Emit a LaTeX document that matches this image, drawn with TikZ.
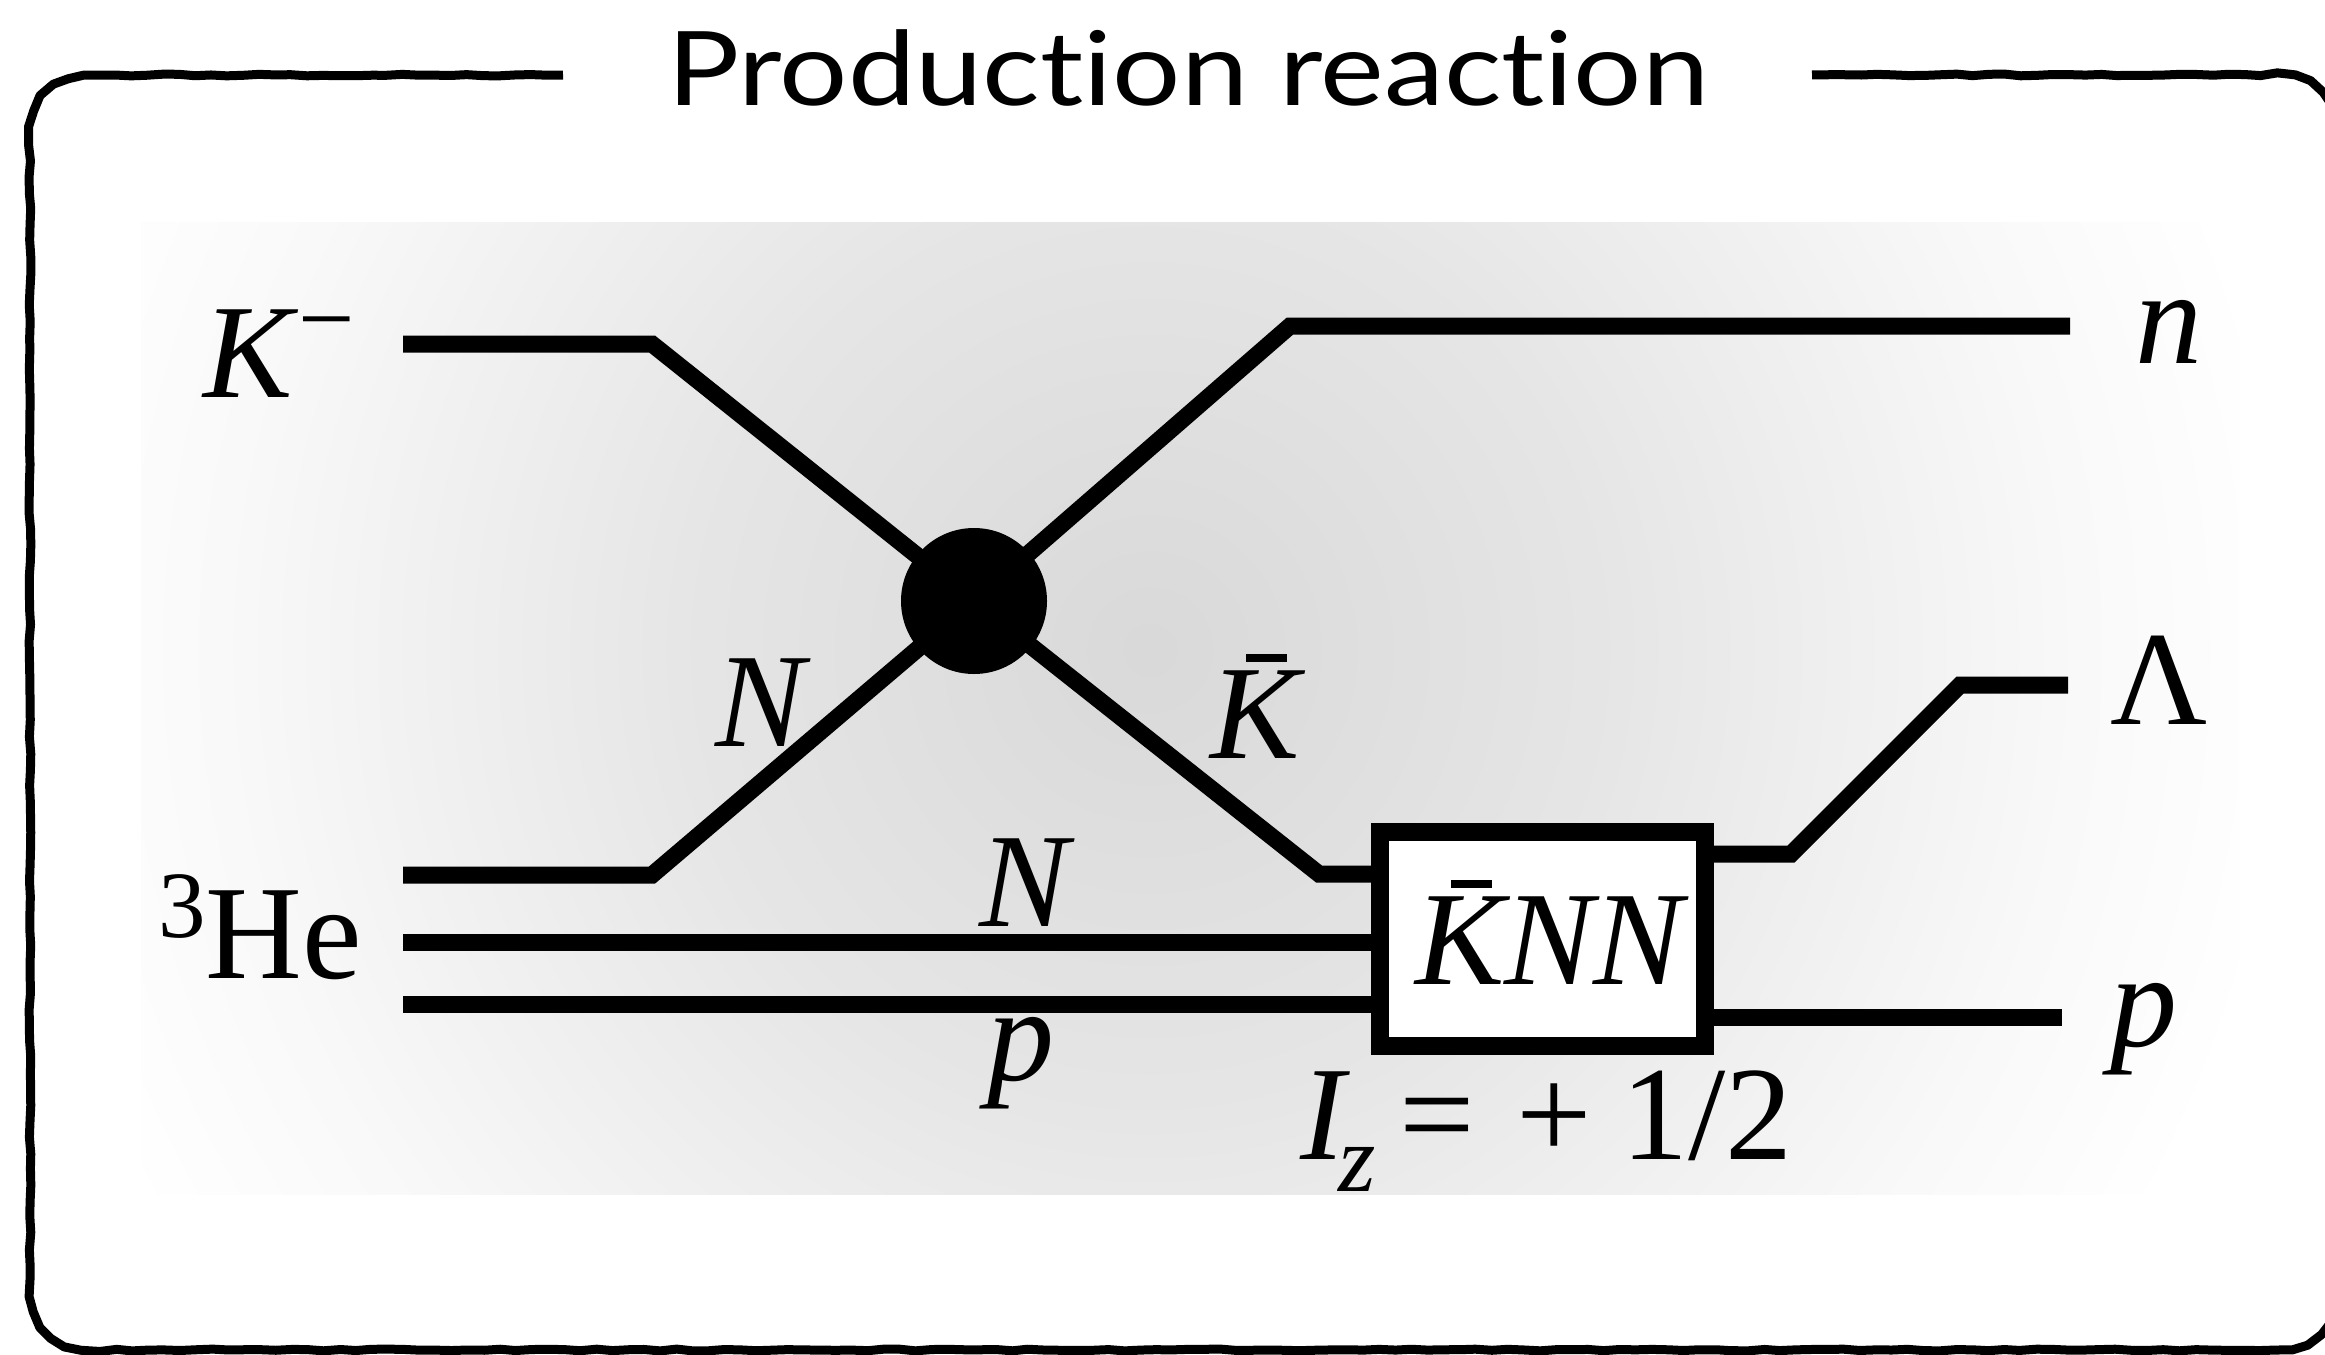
\documentclass[tikz,border=0pt]{standalone}
\usepackage{fontspec}
\setmainfont{Liberation Serif}
\newfontfamily\titlefont[Ligatures=NoCommon,FakeStretch=1.17]{Lato}
\usetikzlibrary{decorations.pathmorphing}
\pgfdeclareradialshading{bgglow}{\pgfpoint{0bp}{0bp}}{color(0bp)=(black!15); color(10bp)=(black!10); color(20bp)=(black!2.5); color(25bp)=(white); color(50bp)=(white)}
\newcommand\Kbar{\rlap{\kern36pt\rule[96pt]{41pt}{8pt}}K}
\begin{document}
\begin{tikzpicture}[x=1pt,y=-1pt,
  wl/.style={line width=17pt, line join=miter},
  lab/.style={anchor=base west, inner sep=0pt, font=\fontsize{134}{140}\selectfont},
  frame/.style={line width=9pt, line join=round, line cap=butt, decorate,
    decoration={random steps, segment length=16pt, amplitude=0.9pt}}]
\pgfmathsetseed{7}
\useasboundingbox (0,0) rectangle (2325,1354);
\fill[white] (0,0) rectangle (2325,1354);
\begin{scope}
  \clip (141,222) rectangle (2239,1194);
  \shade[shading=bgglow] (0,-500) rectangle (2300,1800);
\end{scope}
% frame
\coordinate (fa) at (563,75);
\coordinate (fb) at (1812,75);
\draw[frame] (fa) -- (100,75) .. controls (50,75) and (30,100) .. (30,145)
  -- (30,1280) .. controls (30,1325) and (50,1350) .. (100,1350)
  -- (2277,1350) .. controls (2314,1350) and (2337,1325) .. (2337,1288)
  -- (2337,137) .. controls (2337,100) and (2314,75) .. (2277,75) -- (fb);
\node[anchor=base, inner sep=0pt, font=\titlefont\fontsize{103}{110}\selectfont] (title) at (1188,105) {Production reaction};
% coordinates
\coordinate (kin) at (403,344); \coordinate (kc) at (652,344);
\coordinate (nc) at (1290,326); \coordinate (nout) at (2070,326);
\coordinate (hin1) at (403,875); \coordinate (hc1) at (652,875);
\coordinate (kbc) at (1319,874);
\coordinate (hin2) at (403,942); \coordinate (hin3) at (403,1004);
\coordinate (lamc1) at (1791,854); \coordinate (lamc2) at (1960,685); \coordinate (lamout) at (2068,685);
\coordinate (pout) at (2062,1017);
% nodes
\node[circle, fill=black, minimum size=146pt, inner sep=0pt] (blob) at (974,601) {};
\node[draw, line width=18pt, fill=white, minimum width=325pt, minimum height=214pt, inner sep=0pt] (box) at (1542.5,939) {};
% lines
\draw[wl] (kin) -- (kc) -- (blob.center);
\draw[wl] (blob.center) -- (nc) -- (nout);
\draw[wl] (hin1) -- (hc1) -- (blob.center);
\draw[wl] (blob.center) -- (kbc) -- (box.west |- kbc);
\draw[wl] (hin2) -- (box.west |- hin2);
\draw[wl] (hin3) -- (box.west |- hin3);
\draw[wl] (box.east |- lamc1) -- (lamc1) -- (lamc2) -- (lamout);
\draw[wl] (box.east |- pout) -- (pout);
% labels
\node[lab] (lKm) at (203,397) {\itshape K\kern6pt\raisebox{45pt}{\fontsize{100}{100}\selectfont\upshape −}};
\node[lab] (ln) at (2135,363) {\itshape n};
\node[lab] (lLam) at (2110,724) {Λ};
\node[lab] (lN1) at (715,746) {\itshape N};
\node[lab] (lKb) at (1210,758) {\itshape\Kbar};
\node[lab] (lHe) at (158,978) {\raisebox{41pt}{\fontsize{95}{95}\selectfont 3}He};
\node[lab] (lN2) at (979,926) {\itshape N};
\node[lab] (lp1) at (987,1080) {\itshape p};
\node[lab] (lKNN) at (1415,984) {\itshape\Kbar NN};
\node[lab] (lp2) at (2110,1046) {\itshape p};
\node[lab] (lIz) at (1300,1159) {\itshape I\kern-6pt\raisebox{-32pt}{\fontsize{96}{96}\selectfont z}\upshape\kern23pt=\kern42pt+\kern29pt1/2};
\end{tikzpicture}
\end{document}
